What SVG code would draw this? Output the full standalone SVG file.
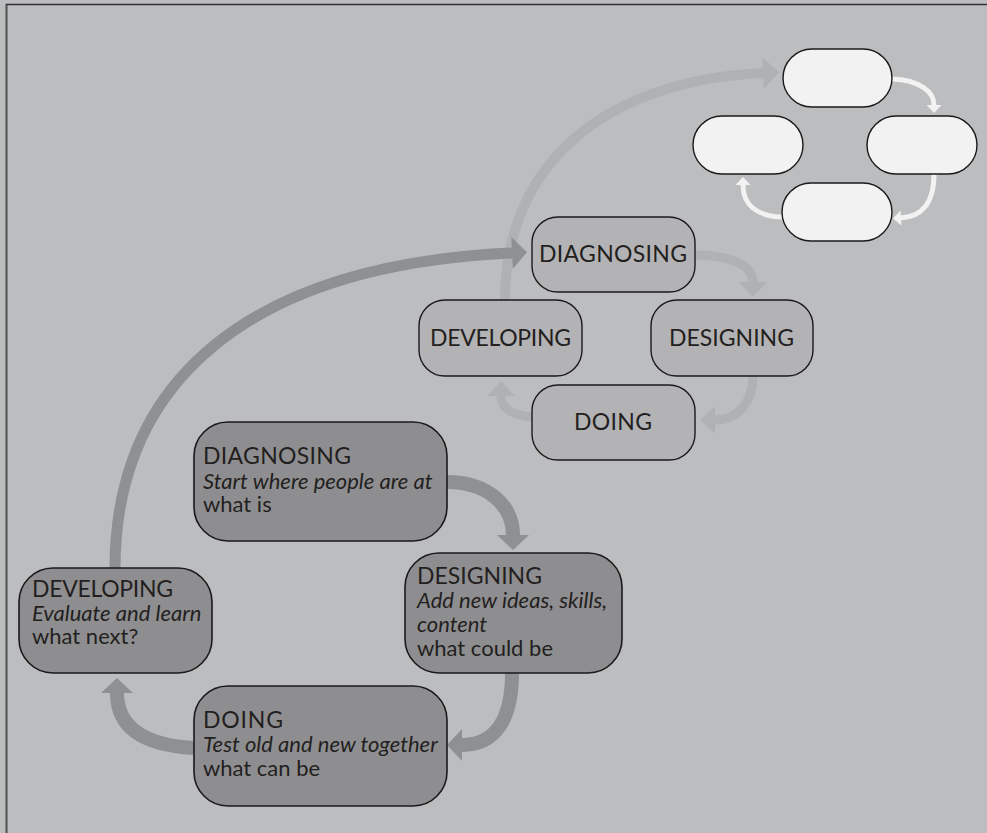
<svg xmlns="http://www.w3.org/2000/svg" width="987" height="833" viewBox="0 0 987 833">
<style>
.bg{fill:#bcbdbf}
.t{font-family:Lato,"Open Sans","Liberation Sans",sans-serif;font-size:22px;fill:#231f20}
.h{font-size:23px}
.i{font-style:italic}
.c{text-anchor:middle}
.nl{fill:#8e8e90;stroke:#1a1a1a;stroke-width:1.6}
.nm{fill:#b3b3b5;stroke:#1a1a1a;stroke-width:1.4}
.nw{fill:#f2f2f2;stroke:#1a1a1a;stroke-width:1.4}
.ad{fill:none;stroke:#8f9092}
.af{fill:none;stroke:#b0b1b3}
.aw{fill:none;stroke:#f2f2f2;stroke-width:5}
</style>
<defs>
<marker id="mD" markerUnits="userSpaceOnUse" orient="auto" refX="0" refY="16" markerWidth="16" markerHeight="32" overflow="visible"><path d="M0,0 L15,16 L0,32 z" fill="#8f9092"/></marker>
<marker id="mF" markerUnits="userSpaceOnUse" orient="auto" refX="0" refY="16" markerWidth="17" markerHeight="32" overflow="visible"><path d="M0,0 L16,16 L0,32 z" fill="#b0b1b3"/></marker>
<marker id="mFs" markerUnits="userSpaceOnUse" orient="auto" refX="0" refY="14" markerWidth="16" markerHeight="28" overflow="visible"><path d="M0,0 L15,14 L0,28 z" fill="#b0b1b3"/></marker>
<marker id="mW" markerUnits="userSpaceOnUse" orient="auto" refX="0" refY="7.5" markerWidth="9" markerHeight="15" overflow="visible"><path d="M0,0 L8,7.5 L0,15 z" fill="#f2f2f2"/></marker>
</defs>
<rect class="bg" x="0" y="0" width="987" height="833"/>
<line x1="6.5" y1="4" x2="6.5" y2="833" stroke="#5a5a5a" stroke-width="2.2"/>
<line x1="6" y1="4.5" x2="987" y2="4.5" stroke="#333" stroke-width="1.6"/>

<g id="connectors">
<path class="af" stroke-width="10" d="M505,300 C505,160 610,80 763,73" marker-end="url(#mF)"/>
<path class="af" stroke-width="9" d="M695,255 C730,255 753,265 753,282" marker-end="url(#mFs)"/>
<path class="af" stroke-width="9" d="M753,376 C753,402 738,420 715,420" marker-end="url(#mFs)"/>
<path class="af" stroke-width="9" d="M532,417 C512,415 501,408 501,396" marker-end="url(#mFs)"/>
<path class="ad" stroke-width="11" d="M115,569 C115,380 250,265 512,253" marker-end="url(#mD)"/>
<path class="ad" stroke-width="14" d="M447,482 C487,482 513,505 513,535" marker-end="url(#mD)"/>
<path class="ad" stroke-width="14" d="M512,673 C512,720 495,745 462,745" marker-end="url(#mD)"/>
<path class="ad" stroke-width="14" d="M194,748 C140,745 117,725 117,693" marker-end="url(#mD)"/>
<path class="aw" d="M892,79 C920,80 934,92 934,105" marker-end="url(#mW)"/>
<path class="aw" d="M934,174 C934,205 920,217 901,218" marker-end="url(#mW)"/>
<path class="aw" d="M782,217 C757,216 743,205 743,185" marker-end="url(#mW)"/>
</g>

<g id="w-top"><rect class="nw" x="783" y="49" width="109" height="58" rx="29"/></g>
<g id="w-left"><rect class="nw" x="693" y="116" width="110" height="58" rx="29"/></g>
<g id="w-right"><rect class="nw" x="867" y="116" width="110" height="58" rx="29"/></g>
<g id="w-bottom"><rect class="nw" x="782" y="183" width="110" height="58" rx="29"/></g>

<g id="m-diagnosing"><rect class="nm" x="532" y="217" width="163" height="75" rx="26"/><text class="t h c" x="613" y="262" textLength="148">DIAGNOSING</text></g>
<g id="m-developing"><rect class="nm" x="419" y="300" width="163" height="76" rx="26"/><text class="t h c" x="500.5" y="346" textLength="141">DEVELOPING</text></g>
<g id="m-designing"><rect class="nm" x="651" y="300" width="162" height="76" rx="26"/><text class="t h c" x="731.5" y="346" textLength="125">DESIGNING</text></g>
<g id="m-doing"><rect class="nm" x="532" y="385" width="163" height="75" rx="26"/><text class="t h c" x="613" y="430" textLength="78">DOING</text></g>

<g id="l-diagnosing"><rect class="nl" x="194" y="422" width="253" height="119" rx="34"/>
<text class="t h" x="203" y="464" textLength="148">DIAGNOSING</text>
<text class="t i" x="203" y="489">Start where people are at</text>
<text class="t" x="203" y="512">what is</text></g>
<g id="l-developing"><rect class="nl" x="19" y="568" width="193" height="105" rx="34"/>
<text class="t h" x="32" y="597" textLength="141">DEVELOPING</text>
<text class="t i" x="32" y="621">Evaluate and learn</text>
<text class="t" x="32" y="644">what next?</text></g>
<g id="l-designing"><rect class="nl" x="405" y="553" width="217" height="120" rx="34"/>
<text class="t h" x="417" y="584" textLength="125">DESIGNING</text>
<text class="t i" x="417" y="608">Add new ideas, skills,</text>
<text class="t i" x="417" y="632">content</text>
<text class="t" x="417" y="656">what could be</text></g>
<g id="l-doing"><rect class="nl" x="194" y="686" width="253" height="120" rx="34"/>
<text class="t h" x="203" y="728" textLength="80">DOING</text>
<text class="t i" x="203" y="752">Test old and new together</text>
<text class="t" x="203" y="776">what can be</text></g>
</svg>
